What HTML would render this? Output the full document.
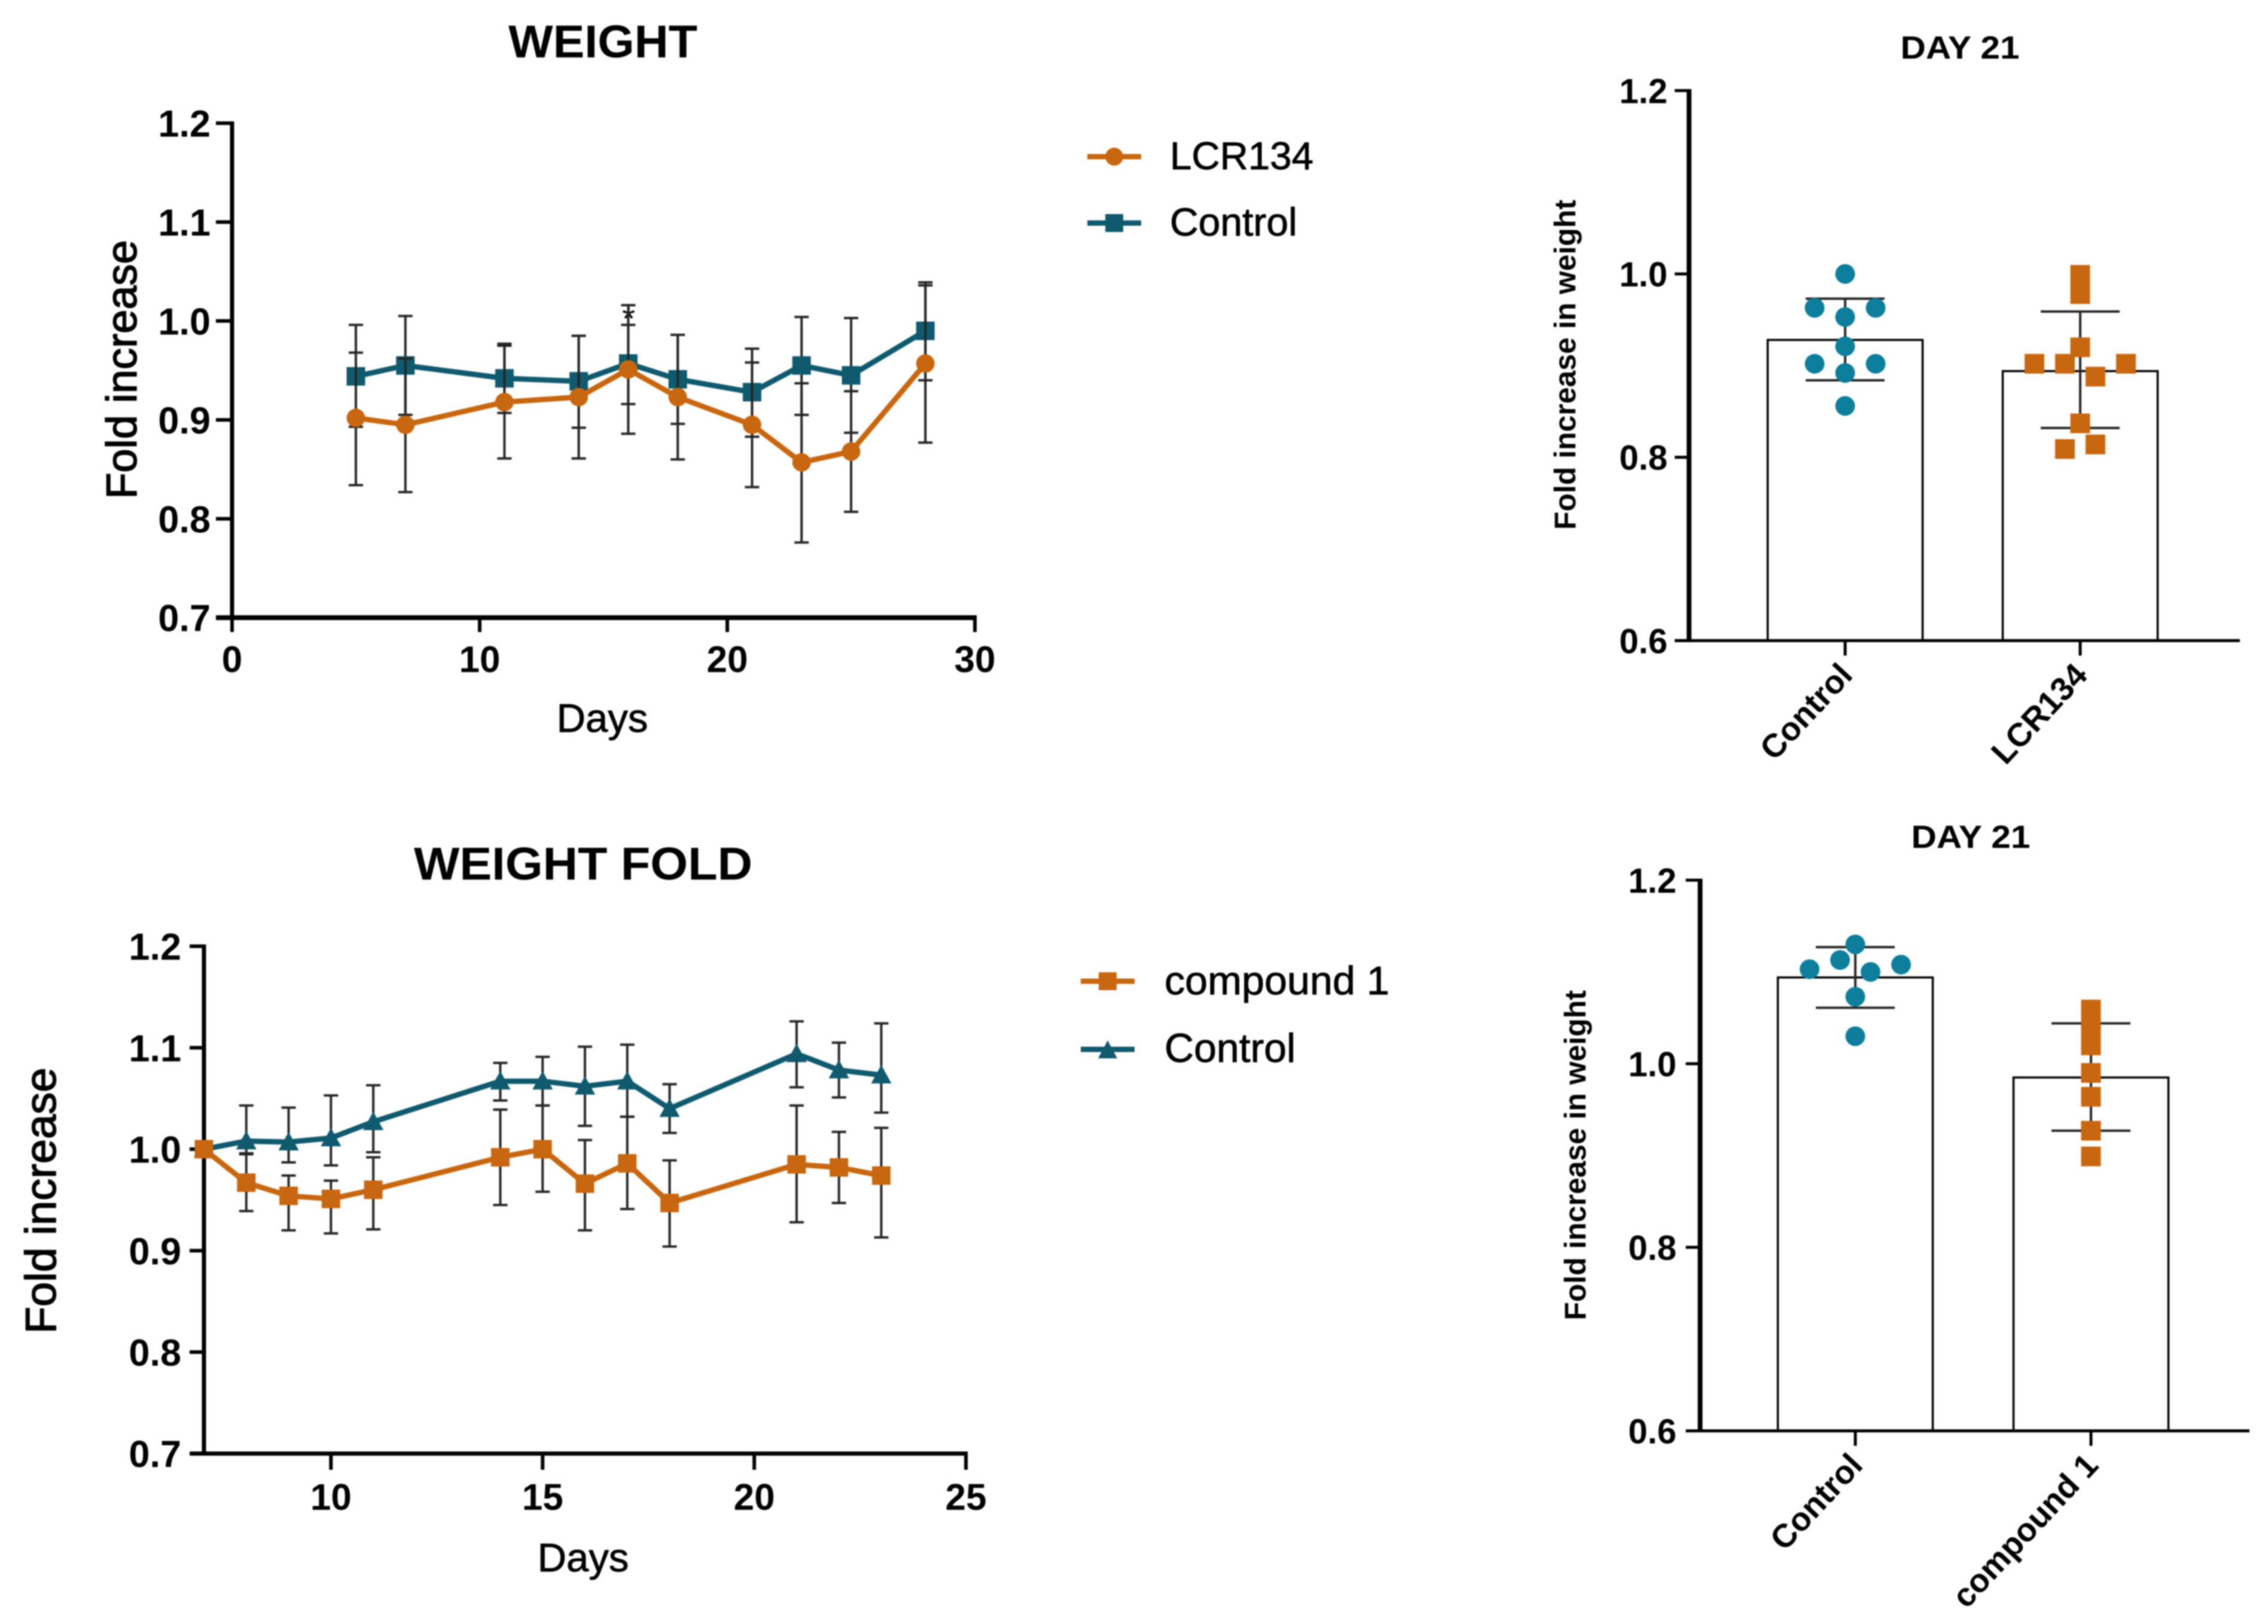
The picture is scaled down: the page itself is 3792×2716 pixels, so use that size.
<!DOCTYPE html>
<html lang="en">
<head>
<meta charset="utf-8">
<title>Weight fold increase charts</title>
<style>
html,body{margin:0;padding:0;background:#fff;}
svg{display:block;filter:blur(1.1px);}
text{font-family:"Liberation Sans",Arial,sans-serif;fill:#000;}
.b{font-weight:700;}
.r{stroke:#000;stroke-width:0.9px;}
.rh{stroke:#000;stroke-width:1.6px;}
</style>
</head>
<body>
<svg id="figure" xmlns="http://www.w3.org/2000/svg" width="3792" height="2716" viewBox="0 0 3792 2716">
  <rect x="0" y="0" width="3792" height="2716" fill="#ffffff"/>

  <text class="b" x="1008" y="96" font-size="77" text-anchor="middle" textLength="316" lengthAdjust="spacingAndGlyphs">WEIGHT</text>
  <text class="r" x="1007" y="1224" font-size="67" text-anchor="middle">Days</text>
  <text class="rh" transform="translate(228,618) rotate(-90)" font-size="71" text-anchor="middle" textLength="433" lengthAdjust="spacingAndGlyphs">Fold increase</text>
  <text x="1051" y="552" font-size="56" text-anchor="middle">*</text>

  <text class="b" x="975" y="1471" font-size="77" text-anchor="middle" textLength="566" lengthAdjust="spacingAndGlyphs">WEIGHT FOLD</text>
  <text class="r" x="975" y="2628" font-size="67" text-anchor="middle">Days</text>
  <text class="rh" transform="translate(93,2008) rotate(-90)" font-size="72" text-anchor="middle" textLength="445" lengthAdjust="spacingAndGlyphs">Fold increase</text>

  <g>
    <g>
      <line x1="1818" x2="1908" y1="262" y2="262" stroke="#c8670f" stroke-width="9"/>
      <circle cx="1863" cy="262" r="15" fill="#c8670f"/>
      <text class="r" x="1956" y="283" font-size="65" textLength="240" lengthAdjust="spacingAndGlyphs">LCR134</text>
    </g>
    <g>
      <line x1="1818" x2="1908" y1="373" y2="373" stroke="#0f5a6e" stroke-width="9"/>
      <rect x="1848" y="358" width="30" height="30" fill="#0f5a6e"/>
      <text class="r" x="1956" y="394" font-size="66">Control</text>
    </g>
  </g>
  <g>
    <g>
      <line x1="1807" x2="1897" y1="1641" y2="1641" stroke="#c8670f" stroke-width="9"/>
      <rect x="1837" y="1626" width="30" height="30" fill="#c8670f"/>
      <text class="r" x="1947" y="1663" font-size="67" textLength="376" lengthAdjust="spacingAndGlyphs">compound 1</text>
    </g>
    <g>
      <line x1="1807" x2="1897" y1="1755" y2="1755" stroke="#0f5a6e" stroke-width="9"/>
      <polygon points="1852,1740 1868,1770 1836,1770" fill="#0f5a6e"/>
      <text class="r" x="1947" y="1776" font-size="68">Control</text>
    </g>
  </g>

  <text class="b" x="3277" y="98" font-size="54" text-anchor="middle" textLength="199" lengthAdjust="spacingAndGlyphs">DAY 21</text>
  <text class="b" transform="translate(2634,610) rotate(-90)" font-size="50" text-anchor="middle" textLength="552" lengthAdjust="spacingAndGlyphs">Fold increase in weight</text>
  <text class="b" x="3295" y="1418" font-size="54" text-anchor="middle" textLength="199" lengthAdjust="spacingAndGlyphs">DAY 21</text>
  <text class="b" transform="translate(2651,1932) rotate(-90)" font-size="50" text-anchor="middle" textLength="552" lengthAdjust="spacingAndGlyphs">Fold increase in weight</text>
</svg>

<script>
// ---- Weight chart data ----
const weightDays = [5, 7, 11, 14, 16, 18, 21, 23, 25, 28];
const weightLcrMean = [0.902, 0.895, 0.918, 0.923, 0.951, 0.923, 0.895, 0.857, 0.868, 0.957];
const weightLcrHigh = [0.968, 0.962, 0.975, 0.985, 1.016, 0.986, 0.958, 0.937, 0.929, 1.036];
const weightLcrLow = [0.834, 0.827, 0.861, 0.861, 0.886, 0.860, 0.832, 0.776, 0.807, 0.877];
const weightControlMean = [0.944, 0.955, 0.942, 0.939, 0.957, 0.941, 0.928, 0.955, 0.945, 0.990];
const weightControlHigh = [0.996, 1.005, 0.977, 0.985, 0.996, 0.986, 0.972, 1.004, 1.003, 1.039];
const weightControlLow = [0.893, 0.905, 0.907, 0.892, 0.916, 0.896, 0.883, 0.905, 0.887, 0.940];
const weightXTicks = [0, 10, 20, 30];
const lineYTicks = [0.7, 0.8, 0.9, 1.0, 1.1, 1.2];

// ---- Weight fold chart data ----
const foldDays = [7, 8, 9, 10, 11, 14, 15, 16, 17, 18, 21, 22, 23];
const foldCompoundMean = [1.000, 0.967, 0.954, 0.951, 0.960, 0.992, 1.000, 0.966, 0.986, 0.947, 0.985, 0.982, 0.974];
const foldCompoundHigh = [1.000, 0.995, 0.974, 0.969, 0.992, 1.039, 1.043, 1.009, 1.032, 0.989, 1.043, 1.017, 1.021];
const foldCompoundLow = [1.000, 0.939, 0.920, 0.917, 0.921, 0.945, 0.958, 0.920, 0.941, 0.904, 0.928, 0.947, 0.913];
const foldControlMean = [1.000, 1.008, 1.007, 1.011, 1.027, 1.067, 1.067, 1.062, 1.067, 1.040, 1.094, 1.078, 1.073];
const foldControlHigh = [1.000, 1.043, 1.041, 1.053, 1.063, 1.085, 1.091, 1.101, 1.103, 1.064, 1.126, 1.105, 1.124];
const foldControlLow = [1.000, 0.996, 0.987, 0.984, 0.997, 1.048, 1.043, 1.023, 1.032, 1.016, 1.061, 1.051, 1.036];
const foldXTicks = [10, 15, 20, 25];

// ---- Day 21 bar data (top) ----
const barYTicks = [0.6, 0.8, 1.0, 1.2];
const topCategories = ["Control", "LCR134"];
const topMeans = [0.928, 0.894];
const topHigh = [0.973, 0.959];
const topLow = [0.884, 0.832];
const topControlPoints = [1.000, 0.963, 0.963, 0.953, 0.921, 0.902, 0.902, 0.892, 0.856];
const topControlSwarm = [0, -1, 1, 0, 0, -1, 1, 0, 0];
const topLcrPoints = [0.999, 0.978, 0.920, 0.902, 0.902, 0.902, 0.888, 0.837, 0.809, 0.814];
const topLcrSwarm = [0, 0, 0, -1.5, -0.5, 1.5, 0.5, 0, -0.5, 0.5];

// ---- Day 21 bar data (bottom) ----
const bottomCategories = ["Control", "compound 1"];
const bottomMeans = [1.094, 0.985];
const bottomHigh = [1.127, 1.044];
const bottomLow = [1.061, 0.927];
const bottomControlPoints = [1.130, 1.113, 1.100, 1.103, 1.108, 1.073, 1.030];
const bottomControlSwarm = [0, -0.5, 0.5, -1.5, 1.5, 0, 0];
const bottomCompoundPoints = [1.059, 1.040, 1.030, 1.020, 0.990, 0.964, 0.927, 0.899];
const bottomCompoundSwarm = [0, 0, 0, 0, 0, 0, 0, 0];

const ORANGE = "#c8670f";
const TEAL_DARK = "#0f5a6e";
const TEAL_DOT = "#0d7f9c";
const SWARM_UNIT = 51;
const svg = document.getElementById("figure");
const NS = "http://www.w3.org/2000/svg";

function make(parent, tag, attrs, name, text) {
  const el = document.createElementNS(NS, tag);
  for (const k in attrs) el.setAttribute(k, attrs[k]);
  
  
  if (text !== undefined) el.textContent = text;
  parent.appendChild(el);
  return el;
}
function linear(d0, d1, r0, r1) {
  return v => r0 + (v - d0) * (r1 - r0) / (d1 - d0);
}
function group(name) {
  return make(svg, "g", {}, name);
}
function yAxis(g, y, ticks, ax, top, bottom, o) {
  make(g, "line", {x1: ax, x2: ax, y1: top - o.tw / 2, y2: bottom + o.xw / 2, stroke: "#000", "stroke-width": o.w}, "y-axis-line");
  ticks.forEach(t => {
    make(g, "line", {x1: ax - o.len, x2: ax, y1: y(t), y2: y(t), stroke: "#000", "stroke-width": o.tw}, "y-tick");
    make(g, "text", {x: o.lx, y: y(t) + o.fs * 0.36, "font-size": o.fs, "text-anchor": "end", "class": "b"}, "y-tick-label", t.toFixed(1));
  });
}
function marker(g, kind, cx, cy, size, color, name) {
  if (kind === "circle") make(g, "circle", {cx: cx, cy: cy, r: size / 2, fill: color}, name);
  else if (kind === "square") make(g, "rect", {x: cx - size / 2, y: cy - size / 2, width: size, height: size, fill: color}, name);
  else make(g, "polygon", {points: (cx) + "," + (cy - size * 0.55) + " " + (cx + size * 0.55) + "," + (cy + size * 0.45) + " " + (cx - size * 0.55) + "," + (cy + size * 0.45), fill: color}, name);
}
function errorBar(g, cx, yHigh, yLow, cap, sw, color, name) {
  make(g, "line", {x1: cx, x2: cx, y1: yHigh, y2: yLow, stroke: color, "stroke-width": sw}, name + "-stem");
  make(g, "line", {x1: cx - cap, x2: cx + cap, y1: yHigh, y2: yHigh, stroke: color, "stroke-width": sw}, name + "-cap-high");
  make(g, "line", {x1: cx - cap, x2: cx + cap, y1: yLow, y2: yLow, stroke: color, "stroke-width": sw}, name + "-cap-low");
}
function lineSeries(g, name, days, mean, high, low, x, y, color, kind) {
  const s = make(g, "g", {}, "series-" + name);
  days.forEach((d, i) => errorBar(s, x(d), y(high[i]), y(low[i]), 12, 4, "#262626", "error-bar-" + name));
  const pts = days.map((d, i) => x(d) + "," + y(mean[i])).join(" ");
  make(s, "polyline", {points: pts, fill: "none", stroke: color, "stroke-width": 9, "stroke-linejoin": "round"}, "line-" + name);
  days.forEach((d, i) => marker(s, kind, x(d), y(mean[i]), 31, color, "point-" + name));
}
function xAxisLine(g, x, ticks, yBase, left, right, o) {
  make(g, "line", {x1: left, x2: right + o.tw / 2, y1: yBase, y2: yBase, stroke: "#000", "stroke-width": o.w}, "x-axis-line");
  ticks.forEach(t => {
    make(g, "line", {x1: x(t), x2: x(t), y1: yBase, y2: yBase + o.len, stroke: "#000", "stroke-width": o.tw}, "x-tick");
    make(g, "text", {x: x(t), y: o.ly, "font-size": o.fs, "text-anchor": "middle", "class": "b"}, "x-tick-label", String(t));
  });
}

// Weight line chart
(function () {
  const g = group("weight-line-chart");
  const x = linear(0, 30, 388, 1630);
  const y = linear(0.7, 1.2, 1033, 206);
  yAxis(g, y, lineYTicks, 388, 206, 1033, {w: 7, xw: 8, tw: 6, len: 27, lx: 352, fs: 63});
  xAxisLine(g, x, weightXTicks, 1033, 361, 1630, {w: 8, tw: 6, len: 24, ly: 1124, fs: 62});
  lineSeries(g, "control", weightDays, weightControlMean, weightControlHigh, weightControlLow, x, y, TEAL_DARK, "square");
  lineSeries(g, "lcr134", weightDays, weightLcrMean, weightLcrHigh, weightLcrLow, x, y, ORANGE, "circle");
})();

// Weight fold line chart
(function () {
  const g = group("weight-fold-line-chart");
  const x = linear(7, 25, 341, 1615);
  const y = linear(0.7, 1.2, 2431, 1582.5);
  yAxis(g, y, lineYTicks, 341, 1582.5, 2431, {w: 7, xw: 7, tw: 6, len: 24, lx: 303, fs: 63});
  xAxisLine(g, x, foldXTicks, 2431, 318, 1615, {w: 7, tw: 6, len: 27, ly: 2525, fs: 62});
  lineSeries(g, "control-fold", foldDays, foldControlMean, foldControlHigh, foldControlLow, x, y, TEAL_DARK, "triangle");
  lineSeries(g, "compound-1", foldDays, foldCompoundMean, foldCompoundHigh, foldCompoundLow, x, y, ORANGE, "square");
})();

function barChart(o) {
  const g = group(o.name);
  const y = linear(0.6, 1.2, o.bottom, o.top);
  const cx = i => o.c0 + i * o.step;
  o.means.forEach((m, i) => {
    make(g, "rect", {x: cx(i) - o.bw / 2, y: y(m), width: o.bw, height: o.bottom - y(m), fill: "#fff", stroke: "#000", "stroke-width": 3.5}, "bar-" + o.categories[i].toLowerCase().replace(/ /g, "-"));
  });
  yAxis(g, y, barYTicks, o.ax, o.top, o.bottom, {w: 8, xw: 5, tw: 5, len: 24, lx: o.lx, fs: 58});
  make(g, "line", {x1: o.ax - 24, x2: o.xEnd, y1: o.bottom, y2: o.bottom, stroke: "#000", "stroke-width": 5}, "x-axis-line");
  o.categories.forEach((c, i) => {
    make(g, "line", {x1: cx(i), x2: cx(i), y1: o.bottom, y2: o.bottom + 25, stroke: "#000", "stroke-width": 5}, "x-tick");
    make(g, "text", {transform: "translate(" + (cx(i) + 15) + "," + (o.bottom + 60) + ") rotate(-47)", "font-size": 55, "text-anchor": "end", "class": "b"}, "x-tick-label", c);
    errorBar(g, cx(i), y(o.high[i]), y(o.low[i]), 66, 4, "#262626", "error-bar");
  });
  o.sets.forEach((s, i) => {
    s.values.forEach((v, j) => {
      const px = cx(i) + s.swarm[j] * SWARM_UNIT;
      marker(g, s.kind, px, y(v), 33, s.color, "point-" + o.categories[i].toLowerCase().replace(/ /g, "-"));
    });
  });
}

barChart({
  name: "day21-top-bar-chart", categories: topCategories, means: topMeans, high: topHigh, low: topLow,
  top: 151.5, bottom: 1071.4, ax: 2824, lx: 2788, xEnd: 3745, c0: 3085, step: 393, bw: 259,
  sets: [
    {values: topControlPoints, swarm: topControlSwarm, kind: "circle", color: TEAL_DOT},
    {values: topLcrPoints, swarm: topLcrSwarm, kind: "square", color: ORANGE}
  ]
});
barChart({
  name: "day21-bottom-bar-chart", categories: bottomCategories, means: bottomMeans, high: bottomHigh, low: bottomLow,
  top: 1472, bottom: 2393, ax: 2842.5, lx: 2803, xEnd: 3761, c0: 3102, step: 394, bw: 259,
  sets: [
    {values: bottomControlPoints, swarm: bottomControlSwarm, kind: "circle", color: TEAL_DOT},
    {values: bottomCompoundPoints, swarm: bottomCompoundSwarm, kind: "square", color: ORANGE}
  ]
});
</script>
</body>
</html>
